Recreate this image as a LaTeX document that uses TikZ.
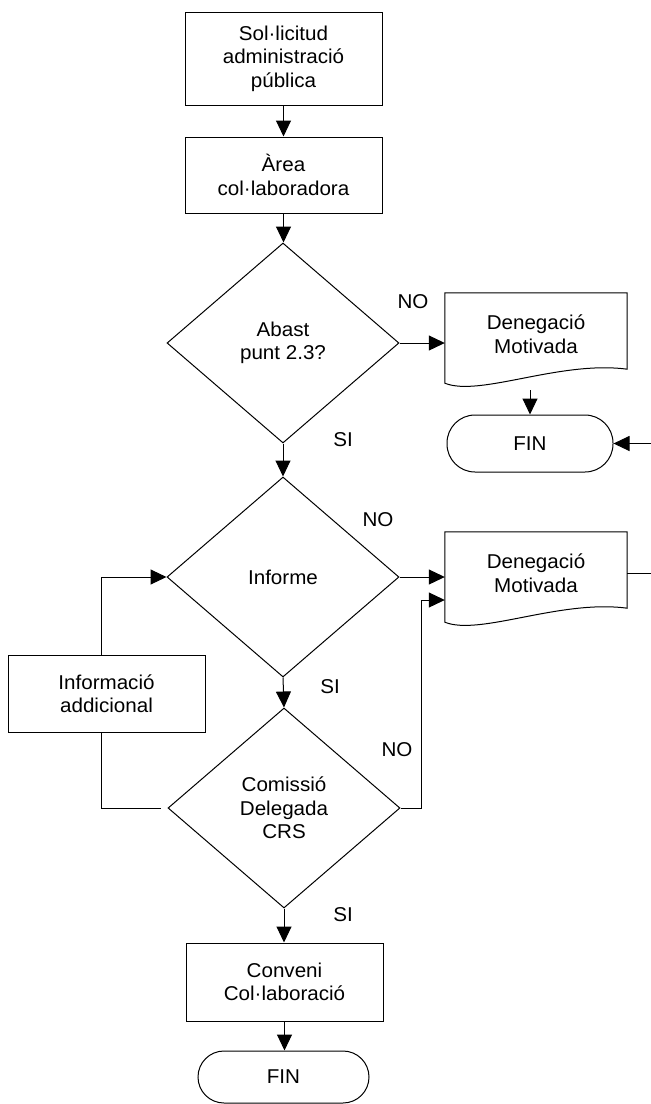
\documentclass[tikz,border=0pt]{standalone}
\usepackage{fontspec}
\setmainfont{Liberation Sans}[FakeStretch=1.03]
\usetikzlibrary{shapes.geometric,arrows.meta,calc}
\begin{document}
\begin{tikzpicture}[x=1pt,y=-1pt,
  every node/.style={font=\fontsize{20}{23.5}\selectfont, align=center},
  line/.style={line width=1pt, draw=black},
  arr/.style={line, -{Triangle[length=16pt,width=15pt]}},
  boxnode/.style={draw, line width=1pt, rectangle, minimum width=197pt, inner sep=0pt},
  decision/.style={draw, line width=1pt, diamond, minimum width=232pt, minimum height=200pt, inner sep=0pt},
  terminal/.style={draw, line width=1pt, rectangle, inner sep=0pt},
  docnode/.style={rectangle, minimum width=182pt, minimum height=82pt, inner sep=0pt},
  lbl/.style={font=\fontsize{20}{22}\selectfont}
]
\useasboundingbox (0,0) rectangle (651,1104);

% nodes
\node[boxnode, minimum height=93pt] (req) at (283.5,58.5) {Sol·licitud\\administració\\pública};
\node[boxnode, minimum height=76pt] (area) at (283.5,175) {Àrea\\col·laboradora};
\node[decision] (abast) at (283,343) {Abast\\punt 2.3?};
\node[docnode] (den1) at (536,334) {Denegació\\Motivada};
\node[terminal, minimum width=166pt, minimum height=57pt, rounded corners=28pt] (fin1) at (530,443.5) {FIN};
\node[decision] (inf) at (283,577) {Informe};
\node[docnode] (den2) at (536,573) {Denegació\\Motivada};
\node[boxnode, minimum height=77pt] (info) at (106.5,693.5) {Informació\\addicional};
\node[decision] (com) at (284,808) {Comissió\\Delegada\\CRS};
\node[boxnode, minimum height=78pt] (conv) at (284.5,982) {Conveni\\Col·laboració};
\node[terminal, minimum width=171pt, minimum height=52pt, rounded corners=26pt] (fin2) at (283.5,1077) {FIN};

% document outlines
\foreach \d in {den1,den2}{
  \draw[line] ($(\d.south west)+(0,8)$) -- (\d.north west) -- (\d.north east)
    -- ($(\d.south east)+(0,-6)$)
    .. controls ($(\d.south west)+(115,-15)$) and ($(\d.south west)+(35,22)$) ..
    ($(\d.south west)+(0,8)$) -- cycle;
}

% labels
\node[lbl] (no1) at (413,302) {NO};
\node[lbl] (si1) at (343,440) {SI};
\node[lbl] (no2) at (378,520) {NO};
\node[lbl] (si2) at (330,687) {SI};
\node[lbl] (no3) at (397,750) {NO};
\node[lbl] (si3) at (343,915) {SI};

% helper coordinates
\coordinate (den1b) at ([yshift=-15pt]den1.south);
\coordinate (den2in) at ([yshift=-27pt]den2.west);
\coordinate (infotop) at ([xshift=-5pt]info.north);
\coordinate (infobot) at ([xshift=-5pt]info.south);
\coordinate (comw) at ([xshift=-7pt]com.west);

% connectors
\draw[arr] (req.south) -- (area.north);
\draw[arr] (area.south) -- (area.south |- abast.north);
\draw[arr] (abast.east) -- (abast.east -| den1.west);
\draw[arr] (den1b -| fin1.north) -- (fin1.north);
\draw[arr] (abast.south) -- (inf.north);
\draw[arr] (inf.east) -- (inf.east -| den2.west);
\draw[arr] (den2.east) -- (656,573) |- (fin1.east);
\draw[arr] (inf.south) -- (com.north);
\draw[arr] (com.east) -- ++(21,0) |- (den2in);
\draw[line] (comw) -| (infobot);
\draw[arr] (infotop) |- (inf.west);
\draw[arr] (com.south) -- (com.south |- conv.north);
\draw[arr] (conv.south) -- (conv.south |- fin2.north);
\end{tikzpicture}
\end{document}
